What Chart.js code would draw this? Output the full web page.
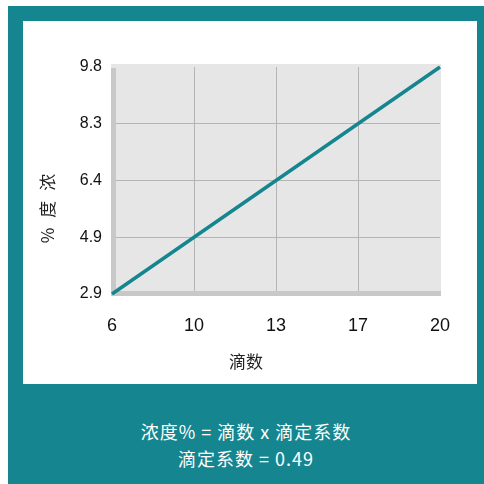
<!DOCTYPE html>
<html>
<head>
<meta charset="utf-8">
<script src="https://cdn.jsdelivr.net/npm/chart.js@4/dist/chart.umd.min.js"></script>
<style>
  html, body { margin: 0; padding: 0; background: #fff; }
  body { width: 484px; height: 484px; position: relative; overflow: hidden; }
  .frame { position: absolute; left: 8px; top: 6px; width: 476px; height: 478px; background: #15868f; }
  .inner { position: absolute; left: 23px; top: 21px; width: 454px; height: 363px; background: #fff; }
  .note { position: absolute; left: 8px; width: 476px; text-align: center; color: #fff;
          font-family: "Noto Sans CJK SC", "Noto Sans", sans-serif; font-size: 18px; line-height: 22px;
          letter-spacing: 1px; }
</style>
</head>
<body>
<div class="frame"></div>
<div class="inner"><canvas id="chart" width="454" height="363"></canvas></div>
<div class="note" style="top:420px">浓度% = 滴数 x 滴定系数</div>
<div class="note" style="top:447px">滴定系数 = 0.49</div>
<script>
/* ----------- Data ----------- */
const drops = ['6', '10', '13', '17', '20'];
const concTicks = ['9.8', '8.3', '6.4', '4.9', '2.9'];   // top to bottom
const conc = [2.9, 4.9, 6.4, 8.3, 9.8];
const xTitle = '滴数';
const yTitle = '% 度 浓';

const teal = '#15868f';
const cjk = '"Noto Sans CJK SC", sans-serif';

/* ----------- Plot background + 3D walls ----------- */
const wallPlugin = {
    id: 'walls',
    beforeDraw(chart) {
        const {ctx, chartArea: a} = chart;
        ctx.save();
        ctx.fillStyle = '#e6e6e6';
        ctx.fillRect(a.left - 1, a.top - 3, a.right - a.left + 2, a.bottom - a.top + 5);
        ctx.restore();
    },
    beforeDatasetsDraw(chart) {
        const {ctx, chartArea: a} = chart;
        ctx.save();
        ctx.fillStyle = '#c8c8c8';
        ctx.fillRect(a.left - 1, a.top + 1, 5, a.bottom - a.top + 1);
        ctx.fillRect(a.left - 1, a.bottom - 3, a.right - a.left + 2, 5);
        ctx.restore();
    },
    afterDraw(chart) {
        const ctx = chart.ctx;
        ctx.save();
        ctx.fillStyle = '#222';
        ctx.font = '17px ' + cjk;
        ctx.textAlign = 'center';
        ctx.textBaseline = 'middle';
        ctx.fillText(xTitle, 223, 341);
        ctx.translate(25, 186);
        ctx.rotate(-Math.PI / 2);
        ctx.letterSpacing = '3px';
        ctx.fillText(yTitle, 0, 0);
        ctx.restore();
    }
};

const innerGrid = c => (c.index === 0 || c.index === 4) ? 'rgba(0,0,0,0)' : '#b4b4b4';

new Chart(document.getElementById('chart'), {
    type: 'line',
    data: {
        labels: drops,
        datasets: [{
            data: conc.map(String),
            borderColor: teal,
            borderWidth: 3.5,
            pointRadius: 0,
            tension: 0,
            fill: false
        }]
    },
    options: {
        responsive: false,
        animation: false,
        layout: { padding: { left: 0, top: 46, right: 37, bottom: 0 } },
        plugins: { legend: { display: false }, tooltip: { enabled: false } },
        scales: {
            x: {
                type: 'category',
                afterFit: s => { s.height = 90; },
                grid: { color: innerGrid, drawTicks: false, lineWidth: 1 },
                border: { display: false },
                ticks: { color: '#111', font: { family: 'Liberation Sans, Arial', size: 18 }, padding: 21, maxRotation: 0 }
            },
            y: {
                type: 'category',
                labels: concTicks,
                afterFit: s => { s.width = 89; },
                grid: { color: innerGrid, drawTicks: false, lineWidth: 1 },
                border: { display: false },
                ticks: { color: '#111', font: { family: 'Liberation Sans, Arial', size: 16 }, padding: 10 }
            }
        }
    },
    plugins: [wallPlugin]
});
</script>
</body>
</html>
